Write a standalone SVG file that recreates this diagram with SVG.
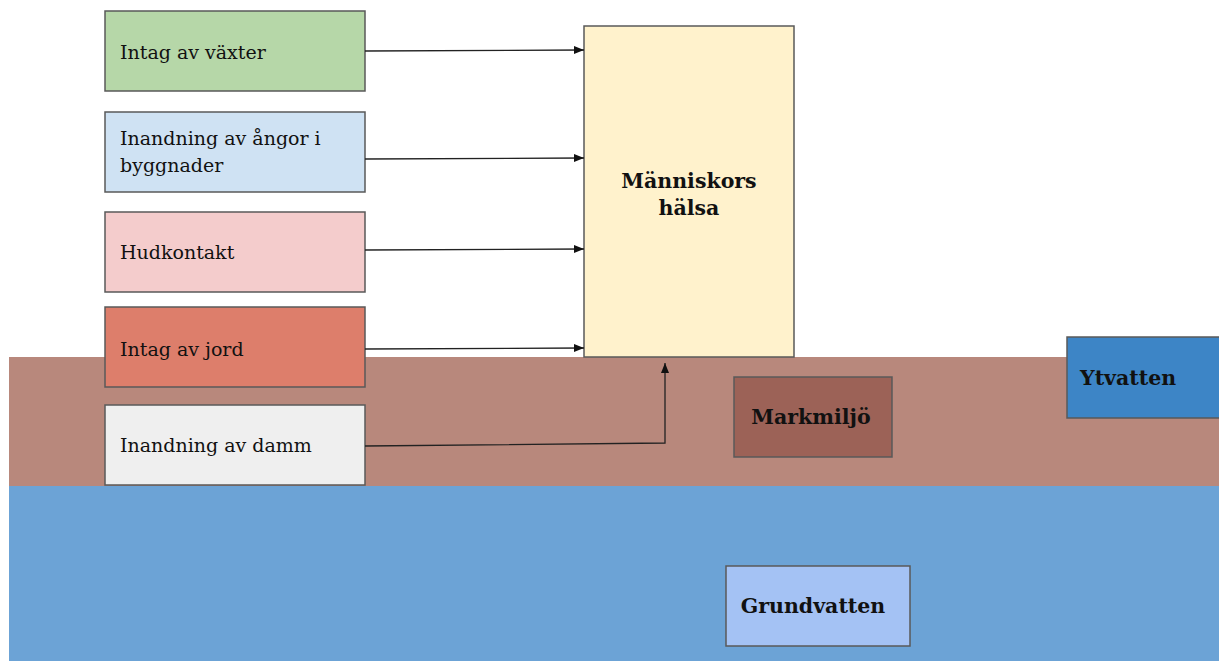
<svg xmlns="http://www.w3.org/2000/svg" width="1219" height="661" viewBox="0 0 1219 661">
<style>
.box{stroke:#595959;stroke-width:1.5}
.t{font-family:"DejaVu Serif","Liberation Serif",serif;font-size:19px;fill:#111}
.b{font-family:"DejaVu Serif","Liberation Serif",serif;font-size:20.5px;font-weight:bold;fill:#111}
.c{fill:none;stroke:#222;stroke-width:1.3}
</style>
<defs>
<marker id="ah" viewBox="0 0 10 10" refX="10" refY="5" markerWidth="10" markerHeight="10" markerUnits="userSpaceOnUse" orient="auto">
<path d="M0,1 L10,5 L0,9 Z" fill="#111"/>
</marker>
</defs>
<rect width="1219" height="661" fill="#ffffff"/>
<rect x="9" y="357" width="1210" height="129" fill="#b8887c"/>
<rect x="9" y="486" width="1210" height="175" fill="#6ca3d6"/>
<g id="n1"><rect class="box" x="105" y="11" width="260" height="80" fill="#b6d7a8"/><text class="t" x="120" y="59">Intag av växter</text></g>
<g id="n2"><rect class="box" x="105" y="112" width="260" height="80" fill="#cfe2f3"/><text class="t" x="120" y="145">Inandning av ångor i</text><text class="t" x="120" y="172">byggnader</text></g>
<g id="n3"><rect class="box" x="105" y="212" width="260" height="80" fill="#f4cccc"/><text class="t" x="120" y="259">Hudkontakt</text></g>
<g id="n4"><rect class="box" x="105" y="307" width="260" height="80" fill="#dd7e6b" stroke="#333"/><text class="t" x="120" y="356">Intag av jord</text></g>
<g id="n5"><rect class="box" x="105" y="405" width="260" height="80" fill="#efefef"/><text class="t" x="120" y="452">Inandning av damm</text></g>
<g id="n6"><rect class="box" x="584" y="26" width="210" height="331" fill="#fff2cc"/><text class="b" x="689" y="188" text-anchor="middle">Människors</text><text class="b" x="689" y="215" text-anchor="middle">hälsa</text></g>
<g id="n7"><rect class="box" x="734" y="377" width="158" height="80" fill="#9c6257" stroke="#444"/><text class="b" x="811" y="424" text-anchor="middle">Markmiljö</text></g>
<g id="n8"><rect class="box" x="1067" y="337" width="160" height="81" fill="#3d85c6" stroke="#333"/><text class="b" x="1080" y="385">Ytvatten</text></g>
<g id="n9"><rect class="box" x="726" y="566" width="184" height="80" fill="#a4c2f4" stroke="#3d5a7a"/><text class="b" x="813" y="613" text-anchor="middle">Grundvatten</text></g>
<g id="connectors">
<path class="c" d="M365,51 L584,50" marker-end="url(#ah)"/>
<path class="c" d="M365,159 L584,158" marker-end="url(#ah)"/>
<path class="c" d="M365,250 L584,249" marker-end="url(#ah)"/>
<path class="c" d="M365,349 L584,348" marker-end="url(#ah)"/>
<path class="c" d="M365,446 L665,443 L665,363" marker-end="url(#ah)"/>
</g>
</svg>
